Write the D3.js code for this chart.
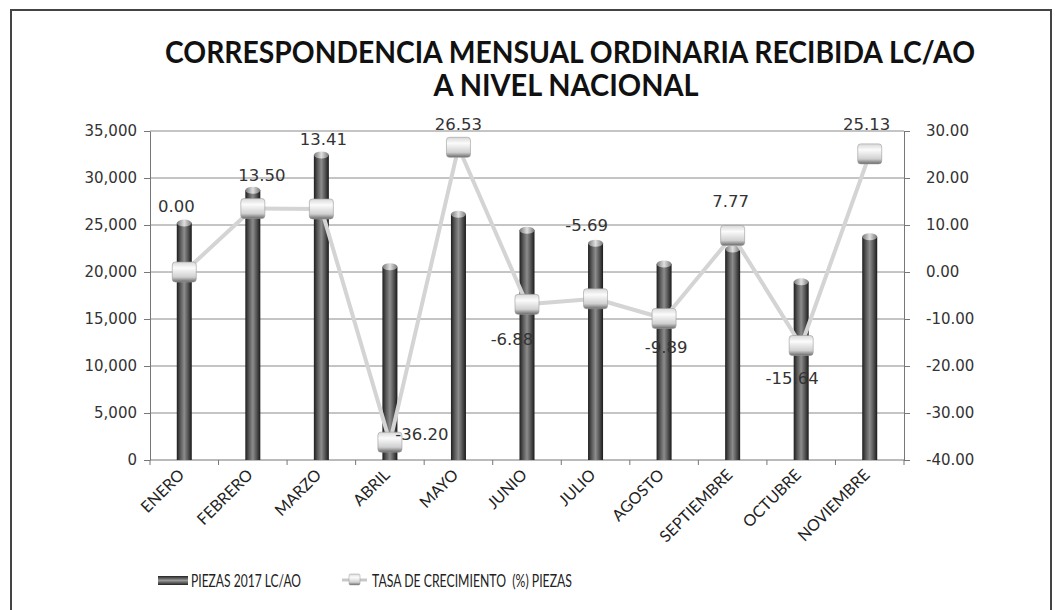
<!DOCTYPE html>
<html>
<head>
<meta charset="utf-8">
<script src="https://cdn.jsdelivr.net/npm/d3@7"></script>
<style>
  body { margin: 0; background: #fff; }
  svg { display: block; }
</style>
</head>
<body>
<svg id="chart" width="1055" height="610"></svg>
<script>
// Data
var months = ["ENERO", "FEBRERO", "MARZO", "ABRIL", "MAYO", "JUNIO", "JULIO",
    "AGOSTO", "SEPTIEMBRE", "OCTUBRE", "NOVIEMBRE"];
var piezas = [25200, 28700, 32450, 20550, 26150, 24450, 23050, 20850, 22450, 18950, 23750];
var tasa = [0.00, 13.50, 13.41, -36.20, 26.53, -6.88, -5.69, -9.89, 7.77, -15.64, 25.13];
var leftTicks = [0, 5000, 10000, 15000, 20000, 25000, 30000, 35000];
var rightTicks = [-40, -30, -20, -10, 0, 10, 20, 30];
var seriesNames = ["PIEZAS 2017 LC/AO", "TASA DE CRECIMIENTO  (%) PIEZAS"];

// where each data label sits relative to its marker
var labelShift = [[-8, -60], [9, -28], [2, -64], [32, -2], [0, -17], [-15, 41], [-9, -68],
    [2, 35], [-2, -28], [-9, 38], [-3, -24]];

var svg = d3.select("#chart");
var plot = { l: 150, r: 904, t: 131, b: 460 };

var x = d3.scaleBand().domain(months).range([plot.l, plot.r]);
var yL = d3.scaleLinear().domain([0, 35000]).range([plot.b, plot.t]);
var yR = d3.scaleLinear().domain([-40, 30]).range([plot.b, plot.t]);
var fmt2 = function (d) { return d3.format(".2f")(d).replace("−", "-"); };

// gradients
var defs = svg.append("defs");
function grad(id, vertical, stops) {
    var g = defs.append("linearGradient").attr("id", id)
        .attr("x1", 0).attr("y1", 0).attr("x2", vertical ? 0 : 1).attr("y2", vertical ? 1 : 0);
    stops.forEach(function (s) { g.append("stop").attr("offset", s[0]).attr("stop-color", s[1]); });
}
grad("barGrad", false, [[0, "#1e1e1e"], [0.25, "#5a5a5a"], [0.5, "#8c8c8c"], [0.75, "#555"], [1, "#1a1a1a"]]);
grad("capGrad", false, [[0, "#777"], [0.5, "#e0e0e0"], [1, "#777"]]);
grad("mkGrad", true, [[0, "#d8d8d8"], [0.3, "#fbfbfb"], [0.75, "#d0d0d0"], [1, "#6a6a6a"]]);
grad("legGrad", true, [[0, "#222"], [0.5, "#999"], [1, "#222"]]);

// frame
svg.append("rect").attr("x", 11).attr("y", 10).attr("width", 1040).attr("height", 640)
    .attr("fill", "none").attr("stroke", "#444").attr("stroke-width", 2);

// title
var title = svg.append("g").attr("text-anchor", "middle")
    .style("font-family", "Lato, sans-serif").style("font-weight", "bold")
    .style("font-size", "30px").attr("fill", "#111");
title.append("text").attr("x", 570).attr("y", 63)
    .attr("textLength", 810).attr("lengthAdjust", "spacingAndGlyphs")
    .text("CORRESPONDENCIA MENSUAL ORDINARIA RECIBIDA LC/AO");
title.append("text").attr("x", 566).attr("y", 96)
    .attr("textLength", 265).attr("lengthAdjust", "spacingAndGlyphs")
    .text("A NIVEL NACIONAL");

// gridlines
svg.append("g").selectAll("line").data(leftTicks.slice(1)).join("line")
    .attr("x1", plot.l).attr("x2", plot.r)
    .attr("y1", function (d) { return yL(d); }).attr("y2", function (d) { return yL(d); })
    .attr("stroke", "#8a8a8a").attr("stroke-width", 1);

// axes
var axisFont = function (g) {
    g.select(".domain").attr("stroke", "#777");
    g.selectAll(".tick line").attr("stroke", "#777");
    g.selectAll("text").style("font-family", "'DejaVu Sans', Verdana, sans-serif")
        .style("font-size", "15px").attr("fill", "#333");
};
svg.append("g").attr("transform", "translate(" + plot.l + ",0)")
    .call(d3.axisLeft(yL).tickValues(leftTicks).tickFormat(d3.format(",")).tickSizeOuter(0).tickPadding(7))
    .call(axisFont);
svg.append("g").attr("transform", "translate(" + plot.r + ",0)")
    .call(d3.axisRight(yR).tickValues(rightTicks).tickFormat(fmt2).tickSizeOuter(0).tickPadding(16))
    .call(axisFont);

// x axis with ticks between categories
var xg = svg.append("g");
xg.append("line").attr("x1", plot.l).attr("x2", plot.r).attr("y1", plot.b).attr("y2", plot.b)
    .attr("stroke", "#777");
xg.selectAll("line.tk").data(d3.range(months.length + 1)).join("line").attr("class", "tk")
    .attr("x1", function (i) { return plot.l + i * x.step(); })
    .attr("x2", function (i) { return plot.l + i * x.step(); })
    .attr("y1", plot.b).attr("y2", plot.b + 5).attr("stroke", "#777");
xg.selectAll("text").data(months).join("text")
    .attr("transform", function (d) { return "translate(" + (x(d) + x.bandwidth() / 2 - 3) + "," + (plot.b + 12) + ") rotate(-45)"; })
    .attr("text-anchor", "end").attr("dy", "0.35em")
    .style("font-family", "Lato, sans-serif").style("font-size", "16px").attr("fill", "#222")
    .text(function (d) { return d; });

// bars (cylinders)
var bw = 15;
var bars = svg.append("g").selectAll("g").data(piezas).join("g");
bars.append("rect")
    .attr("x", function (d, i) { return x(months[i]) + x.bandwidth() / 2 - bw / 2; })
    .attr("y", function (d) { return yL(d); })
    .attr("width", bw)
    .attr("height", function (d) { return yL(0) - yL(d); })
    .attr("fill", "url(#barGrad)");
bars.append("ellipse")
    .attr("cx", function (d, i) { return x(months[i]) + x.bandwidth() / 2; })
    .attr("cy", function (d) { return yL(d); })
    .attr("rx", bw / 2).attr("ry", 3.5)
    .attr("fill", "url(#capGrad)");

// growth line
var pts = tasa.map(function (v, i) { return [x(months[i]) + x.bandwidth() / 2, yR(v)]; });
svg.append("path").attr("d", d3.line()(pts))
    .attr("fill", "none").attr("stroke", "#d4d4d4").attr("stroke-width", 4)
    .attr("stroke-linejoin", "round");
svg.append("g").selectAll("rect").data(pts).join("rect")
    .attr("x", function (d) { return d[0] - 12; }).attr("y", function (d) { return d[1] - 10; })
    .attr("width", 24).attr("height", 20).attr("rx", 3)
    .attr("fill", "url(#mkGrad)").attr("stroke", "#9a9a9a").attr("stroke-width", 0.6);

// data labels
svg.append("g").selectAll("text").data(tasa).join("text")
    .attr("x", function (d, i) { return pts[i][0] + labelShift[i][0]; })
    .attr("y", function (d, i) { return pts[i][1] + labelShift[i][1]; })
    .attr("text-anchor", "middle")
    .style("font-family", "'DejaVu Sans', Verdana, sans-serif").style("font-size", "16.5px")
    .attr("fill", "#333")
    .text(fmt2);

// legend
var leg = svg.append("g");
leg.append("rect").attr("x", 158).attr("y", 576).attr("width", 30).attr("height", 9)
    .attr("fill", "url(#legGrad)");
leg.append("text").attr("x", 191).attr("y", 587)
    .attr("textLength", 110).text(seriesNames[0]);
leg.append("line").attr("x1", 342).attr("x2", 367).attr("y1", 580).attr("y2", 580)
    .attr("stroke", "#c8c8c8").attr("stroke-width", 3);
leg.append("rect").attr("x", 349).attr("y", 574).attr("width", 11).attr("height", 11).attr("rx", 1.5)
    .attr("fill", "url(#mkGrad)").attr("stroke", "#999").attr("stroke-width", 0.5);
leg.append("text").attr("x", 372).attr("y", 587)
    .attr("textLength", 200).text(seriesNames[1]);
leg.selectAll("text").style("font-family", "Lato, sans-serif").style("font-size", "17px")
    .attr("lengthAdjust", "spacingAndGlyphs")
    .attr("fill", "#222").attr("xml:space", "preserve");
</script>
</body>
</html>
